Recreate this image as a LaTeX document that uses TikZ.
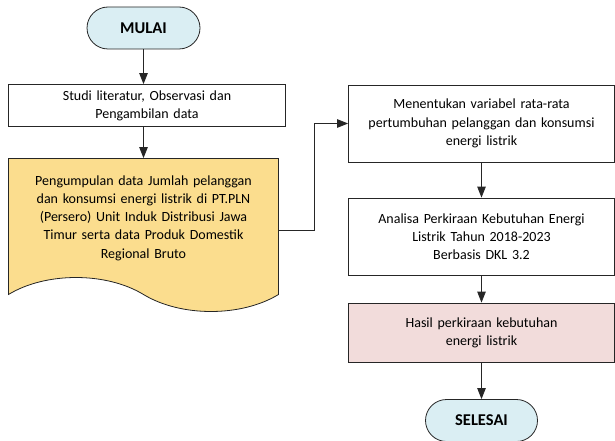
\documentclass[tikz,border=0pt]{standalone}
\usepackage{fontspec}
\setmainfont{Carlito}
\usepackage{tikz}
\usetikzlibrary{shapes.symbols, arrows.meta}
\definecolor{mulaiblue}{HTML}{DAEEF3}
\definecolor{docyellow}{HTML}{FBDD8E}
\definecolor{hasilpink}{HTML}{F2DCDB}
\definecolor{garis}{HTML}{262626}
\tikzstyle{terminal} = [rectangle, rounded corners=21pt, minimum width=113pt, minimum height=42pt, text centered, draw=garis, fill=mulaiblue, font=\fontsize{16.5}{20}\selectfont\bfseries]
\tikzstyle{process} = [rectangle, minimum width=266pt, minimum height=77pt, text width=256pt, align=center, draw=garis, fill=white]
\tikzstyle{dokumen} = [tape, tape bend top=none, tape bend bottom=out and in, tape bend height=34pt, minimum width=270pt, minimum height=153pt, text width=260pt, align=center, draw=garis, fill=docyellow]
\tikzstyle{arrow} = [line width=0.8pt, draw=garis, -{Triangle[length=11pt,width=8.5pt]}]

\begin{document}
\begin{tikzpicture}[font=\fontsize{14}{18.3}\selectfont, line width=0.8pt]
	\useasboundingbox (0,0) rectangle (615pt,-441pt);
	\node (mulai) [terminal] at (143.5pt,-28pt) {MULAI};
	\node (studi) [process, below of=mulai, node distance=77.5pt, xshift=3.5pt, minimum width=277pt, minimum height=42pt, text width=270pt] {Studi literatur, Observasi dan\\Pengambilan data};
	\node (kumpul) [dokumen, below of=studi, node distance=112.5pt, xshift=-3.5pt] {Pengumpulan data Jumlah pelanggan\\dan konsumsi energi listrik di PT.PLN\\(Persero) Unit Induk Distribusi Jawa\\Timur serta data Produk Domestik\\Regional Bruto\\[8pt]};
	\node (tentukan) [process] at (481.5pt,-123.5pt) {Menentukan variabel rata-rata\\pertumbuhan pelanggan dan konsumsi\\energi listrik};
	\node (analisa) [process, below of=tentukan, node distance=113pt] {Analisa Perkiraan Kebutuhan Energi\\Listrik Tahun 2018-2023\\Berbasis DKL 3.2};
	\node (hasil) [process, below of=analisa, node distance=96pt, minimum height=59pt, fill=hasilpink] {Hasil perkiraan kebutuhan\\energi listrik};
	\node (selesai) [terminal, below of=hasil, node distance=88pt, minimum width=112pt] {SELESAI};

	\draw [arrow] (mulai) -- (mulai |- studi.north);
	\draw [arrow] (studi.south -| kumpul) -- (kumpul.north);
	\draw [arrow] ([yshift=-12pt]kumpul.east) -- ++(35pt,0) |- (tentukan.west);
	\draw [arrow] (tentukan) -- (analisa);
	\draw [arrow] (analisa) -- (hasil);
	\draw [arrow] (hasil) -- (selesai);

\end{tikzpicture}
\end{document}
